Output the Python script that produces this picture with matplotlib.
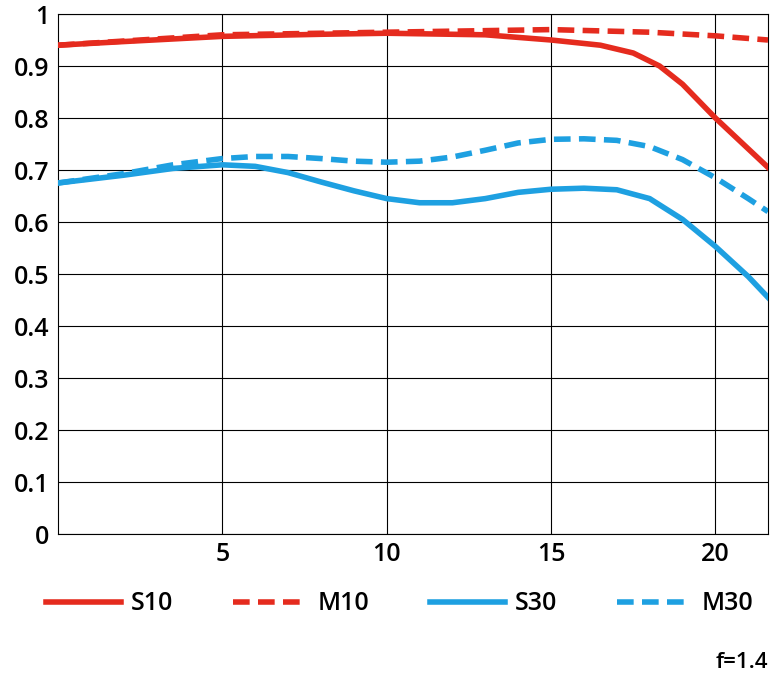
import matplotlib
matplotlib.use("Agg")
import matplotlib.pyplot as plt
from matplotlib.lines import Line2D

x_s10 = [0, 2, 5, 8, 10, 13, 15, 16.5, 17.5, 18.3, 19, 20, 21.6]
y_s10 = [0.94, 0.947, 0.957, 0.961, 0.963, 0.96, 0.95, 0.94, 0.925, 0.90, 0.865, 0.80, 0.705]
x_m10 = [0, 5, 10, 15, 18, 20, 21.6]
y_m10 = [0.94, 0.96, 0.965, 0.97, 0.965, 0.958, 0.95]
x_s30 = [0, 2, 3.5, 5, 6, 7, 8, 9, 10, 11, 12, 13, 14, 15, 16, 17, 18, 19, 20, 21, 21.6]
y_s30 = [0.675, 0.69, 0.703, 0.71, 0.707, 0.695, 0.677, 0.66, 0.645, 0.637, 0.637, 0.645, 0.657, 0.663, 0.665, 0.662, 0.645, 0.605, 0.553, 0.495, 0.455]
x_m30 = [0, 2, 3.5, 5, 6, 7, 8, 9, 10, 11, 12, 13, 14, 15, 16, 17, 18, 19, 20, 21, 21.6]
y_m30 = [0.675, 0.693, 0.71, 0.722, 0.726, 0.726, 0.722, 0.717, 0.715, 0.717, 0.725, 0.738, 0.752, 0.759, 0.76, 0.757, 0.745, 0.72, 0.685, 0.645, 0.62]
series = ["S10", "M10", "S30", "M30"]

red = "#e52b1e"
blue = "#1ea0e1"
plt.rcParams["font.family"] = "Open Sans"
plt.rcParams["font.weight"] = "semibold"
fig = plt.figure(figsize=(7.76, 6.78), dpi=100)
ax = fig.add_axes([58/776, 1-534/678, 710/776, 520/678])
for xs, ys, c, ls in [(x_s10, y_s10, red, "-"), (x_m10, y_m10, red, "--"),
                      (x_s30, y_s30, blue, "-"), (x_m30, y_m30, blue, "--")]:
    ax.plot(xs, ys, color=c, ls=ls, lw=4, dashes=(3, 1.5) if ls == "--" else (None, None), zorder=3)
ax.set_xlim(0, 21.6)
ax.set_ylim(0, 1)
ax.set_xticks([5, 10, 15, 20])
ax.set_yticks([i/10 for i in range(11)])
ax.set_yticklabels(["0"] + [f"0.{i}" for i in range(1, 10)] + ["1"])
ax.grid(True, color="black", lw=0.8)
ax.tick_params(length=0, labelsize=18, pad=6)
for s in ax.spines.values():
    s.set_linewidth(0.8)
handles = [Line2D([], [], color=red, lw=4), Line2D([], [], color=red, lw=4, ls="--", dashes=(3, 1.5)),
           Line2D([], [], color=blue, lw=4), Line2D([], [], color=blue, lw=4, ls="--", dashes=(3, 1.5))]
fig.legend(handles, series, loc="center", bbox_to_anchor=(0.515, 1-604/678), ncol=4, frameon=False,
           fontsize=18, handlelength=3.0, columnspacing=2.4, handletextpad=0.4)
fig.text(768/776, 1-662/678, "f=1.4", ha="right", va="center", fontsize=16)
fig.savefig("out.png", dpi=100)
